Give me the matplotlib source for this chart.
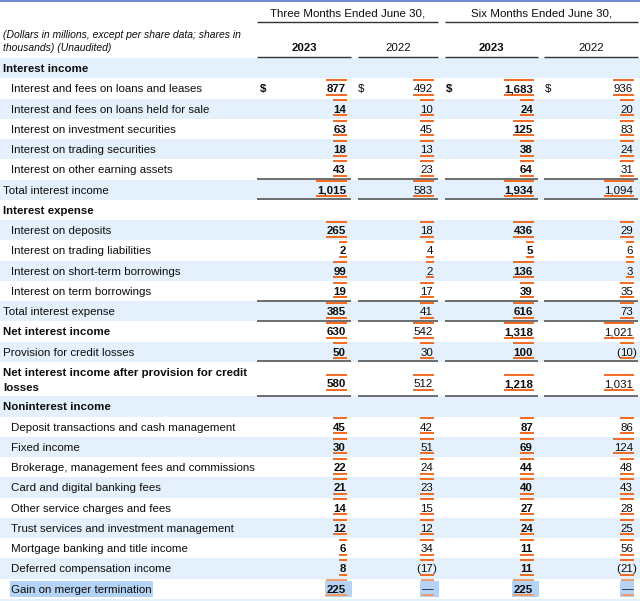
import matplotlib
matplotlib.use('Agg')
import matplotlib.pyplot as plt
from matplotlib.patches import Rectangle

plt.rcParams['font.family'] = ['Liberation Sans', 'DejaVu Sans']

# ---- table data (millions of dollars) ----
row_labels = [
    'Interest income',
    'Interest and fees on loans and leases',
    'Interest and fees on loans held for sale',
    'Interest on investment securities',
    'Interest on trading securities',
    'Interest on other earning assets',
    'Total interest income',
    'Interest expense',
    'Interest on deposits',
    'Interest on trading liabilities',
    'Interest on short-term borrowings',
    'Interest on term borrowings',
    'Total interest expense',
    'Net interest income',
    'Provision for credit losses',
    'Net interest income after provision for credit\nlosses',
    'Noninterest income',
    'Deposit transactions and cash management',
    'Fixed income',
    'Brokerage, management fees and commissions',
    'Card and digital banking fees',
    'Other service charges and fees',
    'Trust services and investment management',
    'Mortgage banking and title income',
    'Deferred compensation income',
    'Gain on merger termination',
]
q2_2023 = [None, 877, 14, 63, 18, 43, 1015, None, 265, 2, 99, 19, 385, 630, 50, 580,
           None, 45, 30, 22, 21, 14, 12, 6, 8, 225]
q2_2022 = [None, 492, 10, 45, 13, 23, 583, None, 18, 4, 2, 17, 41, 542, 30, 512,
           None, 42, 51, 24, 23, 15, 12, 34, -17, 0]
h1_2023 = [None, 1683, 24, 125, 38, 64, 1934, None, 436, 5, 136, 39, 616, 1318, 100, 1218,
           None, 87, 69, 44, 40, 27, 24, 11, 11, 225]
h1_2022 = [None, 936, 20, 83, 24, 31, 1094, None, 29, 6, 3, 35, 73, 1021, -10, 1031,
           None, 86, 124, 48, 43, 28, 25, 56, -21, 0]

group_headers = ['Three Months Ended June 30,', 'Six Months Ended June 30,']
year_headers = ['2023', '2022', '2023', '2022']
units_note = ['(Dollars in millions, except per share data; shares in',
              'thousands) (Unaudited)']

# ---- styling / layout ----
section_rows = {0, 7, 16}
bold_rows = {13, 15}
plain_rows = {6, 12, 14}          # flush left, regular weight
dollar_rows = {1}
rules = [(6, 'top'), (6, 'bottom'), (12, 'top'), (12, 'bottom'), (14, 'bottom'), (15, 'bottom')]
highlight_row = 25

W, H = 640, 601
FS = 8.25
band_color = '#e4f1fc'
orange = '#f26a21'
rule_color = '#555555'
sel_color = '#b5d3f4'
ink = '#0d0d0d'

col_left = [257, 358, 445, 544]
col_right = [351, 438, 538, 638]
dollar_x = [260, 358, 446, 545]
bold_cols = [True, False, True, False]

body_top = 58
row_h = [20.25] * len(row_labels)
row_h[15] = 34.5

fig = plt.figure(figsize=(W / 100, H / 100), dpi=100)
ax = fig.add_axes([0, 0, 1, 1])
ax.set_xlim(0, W)
ax.set_ylim(H, 0)
ax.axis('off')

# top border
ax.plot([0, W], [0.7, 0.7], color='#5575cc', lw=1.2, solid_capstyle='butt')

# header rows
for k, txt in enumerate(group_headers):
    x0, x1 = col_left[2 * k], col_right[2 * k + 1]
    ax.text((x0 + x1) / 2, 17, txt, ha='center', va='baseline', fontsize=FS, color=ink)
    ax.plot([x0, x1], [22, 22], color='#333', lw=1.0, solid_capstyle='butt')
ax.text(3, 38, units_note[0], ha='left', va='baseline', fontsize=7.5, style='italic', color=ink)
ax.text(3, 51, units_note[1], ha='left', va='baseline', fontsize=7.5, style='italic', color=ink)
for c, yr in enumerate(year_headers):
    ax.text((col_left[c] + col_right[c]) / 2, 51, yr, ha='center', va='baseline', fontsize=FS,
            fontweight='bold' if bold_cols[c] else 'normal', color=ink)
    ax.plot([col_left[c], col_right[c]], [56.5, 56.5], color='#333', lw=1.0, solid_capstyle='butt')

# row geometry
tops = []
y = body_top
for h in row_h:
    tops.append(y)
    y += h
n_rows = len(row_labels)

# bands
for i in range(n_rows + 1):
    top = tops[i] if i < n_rows else y
    h = row_h[i] if i < n_rows else 20.25
    if i % 2 == 0:
        ax.add_patch(Rectangle((0, top), W, h, color=band_color, lw=0, zorder=0))

fig.canvas.draw()
renderer = fig.canvas.get_renderer()
inv = ax.transData.inverted()


def text_box(t):
    bb = t.get_window_extent(renderer)
    (x0, y0), (x1, y1) = inv.transform([(bb.x0, bb.y0), (bb.x1, bb.y1)])
    return min(x0, x1), max(x0, x1), min(y0, y1), max(y0, y1)


columns = [q2_2023, q2_2022, h1_2023, h1_2022]

for i, label in enumerate(row_labels):
    top, h = tops[i], row_h[i]
    if '\n' in label:
        lines = label.split('\n')
        base = [top + 14.5, top + 29.5]
        vc = top + h - 13
    else:
        lines = [label]
        base = [top + h / 2 + 4]
        vc = top + h / 2
    indent = 11 if i not in section_rows | bold_rows | plain_rows else 3
    weight = 'bold' if i in section_rows | bold_rows else 'normal'
    for ln, b in zip(lines, base):
        t = ax.text(indent, b, ln, ha='left', va='baseline', fontsize=FS, fontweight=weight,
                    color=ink, zorder=3)
        if i == highlight_row:
            x0, x1, _, _ = text_box(t)
            ax.add_patch(Rectangle((x0 - 1, top + 2), x1 - x0 + 2, h - 4, color=sel_color,
                                   lw=0, zorder=1))

    # values
    for c, series in enumerate(columns):
        v = series[i]
        if v is None:
            continue
        w = 'bold' if bold_cols[c] else 'normal'
        xr = col_right[c] - 5
        s = '\u2014' if v == 0 else f'{abs(v):,}'
        t = ax.text(xr, vc + 4, s, ha='right', va='baseline', fontsize=FS, fontweight=w,
                    color=ink, zorder=3)
        x0, x1, _, _ = text_box(t)
        if v < 0:
            ax.text(x0, vc + 4, '(', ha='right', va='baseline', fontsize=FS, fontweight=w,
                    color=ink, zorder=3)
            ax.text(xr, vc + 4, ')', ha='left', va='baseline', fontsize=FS, fontweight=w,
                    color=ink, zorder=3)
        oc = orange if i != highlight_row else '#f39a6a'
        ax.plot([x0 - 0.5, x1 + 0.5], [vc - 8.3, vc - 8.3], color=oc, lw=1.4,
                solid_capstyle='butt', zorder=2)
        ax.plot([x0 - 0.5, x1 + 0.5], [vc + 6.5, vc + 6.5], color=oc, lw=1.4,
                solid_capstyle='butt', zorder=2)
        if i == highlight_row:
            right = col_right[c] + 1 if c < 3 else x1 + 1
            ax.add_patch(Rectangle((x0 - 2, top + 2), right - x0 + 2, h - 4, color=sel_color,
                                   lw=0, zorder=1))
        if i in dollar_rows:
            ax.text(dollar_x[c], vc + 4, '$', ha='left', va='baseline', fontsize=FS,
                    fontweight=w, color=ink, zorder=3)

# total rules
for i, side in rules:
    yy = tops[i] if side == 'top' else tops[i] + row_h[i]
    yy = yy - 0.5
    for c in range(4):
        ax.plot([col_left[c], col_right[c]], [yy, yy], color=rule_color, lw=1.2,
                solid_capstyle='butt', zorder=2)

fig.savefig('out.png', dpi=100, facecolor='white')
